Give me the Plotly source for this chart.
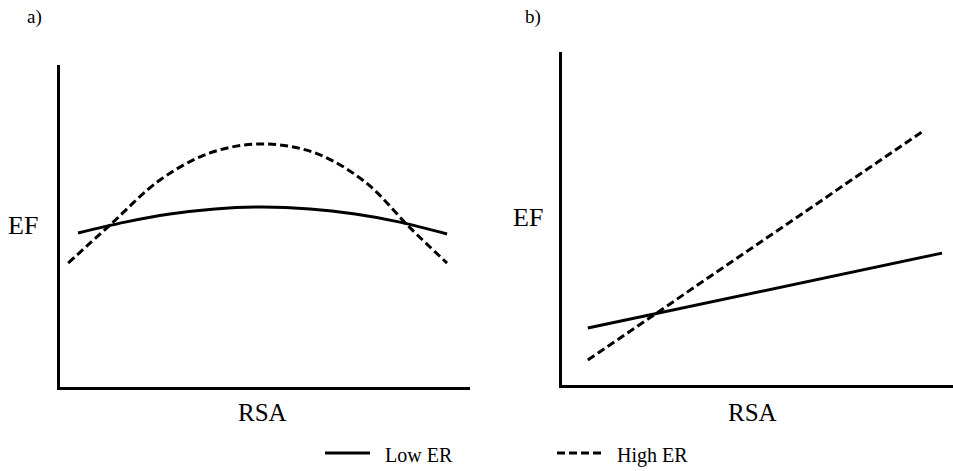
import plotly.graph_objects as go

# Panel a (inverted-U)
a_x_low = [0.44, 1.59, 2.68, 3.78, 4.93, 6.10, 7.20, 8.29, 9.44]
a_y_low = [4.78, 5.12, 5.37, 5.53, 5.59, 5.53, 5.37, 5.12, 4.75]
a_x_high = [0.20, 1.22, 2.44, 3.66, 4.93, 6.22, 7.44, 8.54, 9.44]
a_y_high = [3.85, 5.03, 6.43, 7.27, 7.55, 7.27, 6.37, 4.94, 3.85]

# Panel b (linear)
b_x_low = [0.66, 9.72]
b_y_low = [1.71, 3.96]
b_x_high = [0.66, 9.28]
b_y_high = [0.75, 7.66]

series_names = ["Low ER", "High ER"]
panel_labels = ["a)", "b)"]
axis_x_title = "RSA"
axis_y_title = "EF"

FONT = "Liberation Serif, Times New Roman, serif"
DASH = "8px,4px"

W, H = 953, 471


def px(xp):
    return xp / W


def py(yp):
    return 1 - yp / H


fig = go.Figure()
fig.add_trace(go.Scatter(x=a_x_low, y=a_y_low, mode="lines", name=series_names[0],
                         line=dict(color="black", width=3, shape="spline"),
                         xaxis="x", yaxis="y"))
fig.add_trace(go.Scatter(x=a_x_high, y=a_y_high, mode="lines", name=series_names[1],
                         line=dict(color="black", width=3, dash=DASH, shape="spline"),
                         xaxis="x", yaxis="y"))
fig.add_trace(go.Scatter(x=b_x_low, y=b_y_low, mode="lines", name=series_names[0],
                         line=dict(color="black", width=3),
                         xaxis="x2", yaxis="y2"))
fig.add_trace(go.Scatter(x=b_x_high, y=b_y_high, mode="lines", name=series_names[1],
                         line=dict(color="black", width=3, dash=DASH),
                         xaxis="x2", yaxis="y2"))

ax_common = dict(showgrid=False, zeroline=False, showticklabels=False, ticks="",
                 showline=True, linecolor="black", linewidth=3, range=[0, 10], fixedrange=True)

fig.update_layout(
    width=W, height=H,
    margin=dict(l=0, r=0, t=0, b=0),
    paper_bgcolor="white", plot_bgcolor="white",
    font=dict(family=FONT, color="black"),
    xaxis=dict(domain=[px(60), px(470)], anchor="y", **ax_common),
    yaxis=dict(domain=[py(387), py(65)], anchor="x", **ax_common),
    xaxis2=dict(domain=[px(562), 1.0], anchor="y2", **ax_common),
    yaxis2=dict(domain=[py(385), py(52)], anchor="x2", **ax_common),
    showlegend=False,
    hovermode=False,
)

# Manual legend keys (bottom centre)
legend_keys = [(325, 370, 383, "solid", series_names[0]),
               (557, 602, 615, DASH, series_names[1])]
for x0, x1, tx, dash, label in legend_keys:
    fig.add_shape(type="line", xref="paper", yref="paper", x0=px(x0), x1=px(x1),
                  y0=py(453), y1=py(453), line=dict(color="black", width=3, dash=dash))
    fig.add_annotation(text=label, x=px(tx), y=py(455), xref="paper", yref="paper",
                       showarrow=False, xanchor="left", yanchor="middle",
                       font=dict(family=FONT, size=20, color="black"))

anns = [
    dict(text=panel_labels[0], x=34, y=17, size=19),
    dict(text=panel_labels[1], x=533, y=17, size=19),
    dict(text=axis_y_title, x=23, y=225, size=26),
    dict(text=axis_y_title, x=528, y=217, size=26),
    dict(text=axis_x_title, x=262, y=412, size=25),
    dict(text=axis_x_title, x=752, y=412, size=25),
]
for a in anns:
    fig.add_annotation(text=a["text"], x=px(a["x"]), y=py(a["y"]), xref="paper", yref="paper",
                       showarrow=False, xanchor="center", yanchor="middle",
                       font=dict(family=FONT, size=a["size"], color="black"))

fig.write_html("out.html", config={"displayModeBar": False, "staticPlot": True},
               post_script="document.body.style.margin='0';document.body.style.overflow='hidden';")
